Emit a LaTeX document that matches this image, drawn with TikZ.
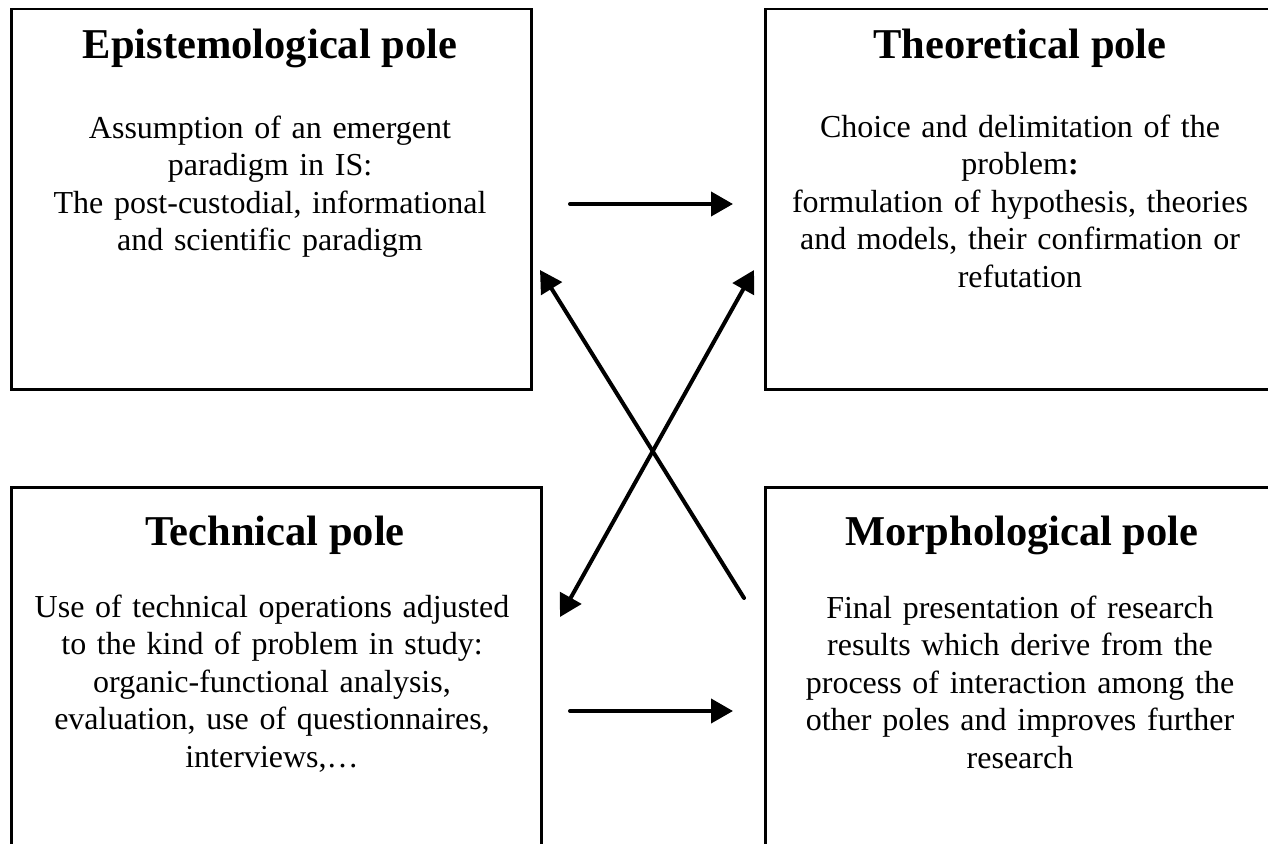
\documentclass[tikz,border=0pt]{standalone}
\usepackage{fontspec}
\setmainfont{Liberation Serif}
\usetikzlibrary{arrows.meta}
\tikzset{
  polebox/.style={draw=black, line width=2.5pt, minimum width=#1, minimum height=400pt, inner sep=0pt, anchor=north west},
  poletitle/.style={anchor=base, inner sep=0pt, font=\fontsize{42.5}{48}\selectfont\bfseries},
  polebody/.style={anchor=base, inner sep=0pt, text width=500pt, align=center, font=\fontsize{32}{37.5}\selectfont},
  link/.style={line width=4pt, line cap=round, -{Triangle[length=22pt,width=24pt]}},
  dlink/.style={line width=4pt, {Triangle[length=22pt,width=24pt]}-{Triangle[length=22pt,width=24pt]}}
}
\begin{document}
\begin{tikzpicture}[x=1pt,y=-1pt]
\useasboundingbox (0,0) rectangle (1268,843);
\clip (0,0) rectangle (1268,843);
\fill[white] (0,0) rectangle (1268,843);
% boxes
\node[polebox=520pt, minimum height=380pt] (ep) at (10,8) {};
\node[polebox=530pt, minimum height=380pt] (th) at (764,8) {};
\node[polebox=530pt] (te) at (10,486) {};
\node[polebox=530pt] (mo) at (764,486) {};
% titles
\node[poletitle] (ept) at (270,59) {Epistemological pole};
\node[poletitle] (tht) at (1020,59) {Theoretical pole};
\node[poletitle] (tet) at (275,545) {Technical pole};
\node[poletitle] (mot) at (1022,545) {Morphological pole};
% bodies
\node[polebody] (epb) at (270,138) {Assumption of an emergent\\ paradigm in IS:\\ The post-custodial, informational\\ and scientific paradigm};
\node[polebody] (thb) at (1020,137) {Choice and delimitation of the\\ problem\textbf{:}\\ formulation of hypothesis, theories\\ and models, their confirmation or\\ refutation};
\node[polebody] (teb) at (272,617) {Use of technical operations adjusted\\ to the kind of problem in study:\\ organic-functional analysis,\\ evaluation, use of questionnaires,\\ interviews,…};
\node[polebody] (mob) at (1020,618) {Final presentation of research\\ results which derive from the\\ process of interaction among the\\ other poles and improves further\\ research};
% arrow end points
\coordinate (h1s) at (570,204);
\coordinate (h1e) at (733,204);
\coordinate (h2s) at (570,711);
\coordinate (h2e) at (733,711);
\coordinate (a1) at (744,598);
\coordinate (a2) at (540,270);
\coordinate (b1) at (560,617);
\coordinate (b2) at (754,270);
% connectors
\draw[link] (h1s) -- (h1e);
\draw[link] (h2s) -- (h2e);
\draw[link] (a1) -- (a2);
\draw[dlink] (b1) -- (b2);
\end{tikzpicture}
\end{document}
